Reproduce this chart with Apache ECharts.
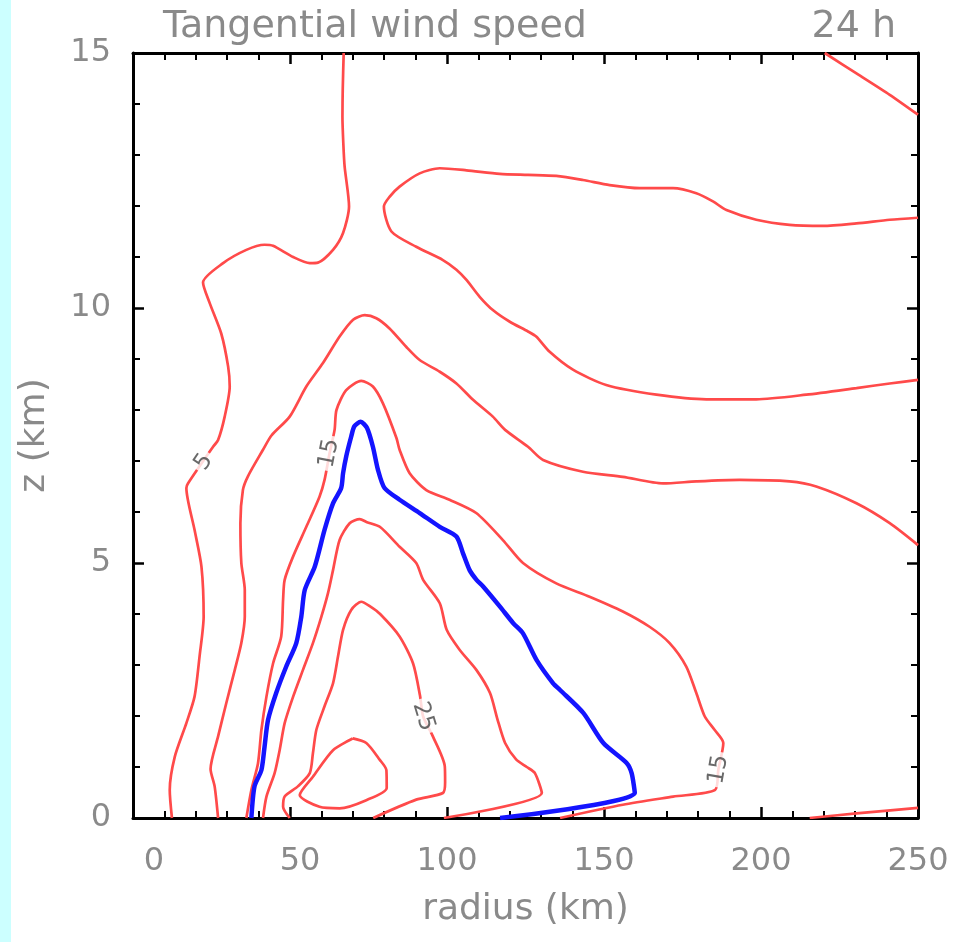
<!DOCTYPE html>
<html>
<head>
<meta charset="utf-8">
<script src="https://cdn.jsdelivr.net/npm/echarts@6/dist/echarts.min.js"></script>
<style>
html,body{margin:0;padding:0;background:#fff;}
#chart{width:957px;height:942px;}
</style>
</head>
<body>
<div id="chart"></div>
<script>
// ---- data (radius km, height km) ----
const xTicks = [0, 50, 100, 150, 200, 250];
const yTicks = [0, 5, 10, 15];

// 5 m/s contour (main branch)
const c5main = [[67.1,15.0],[66.8,14.3],[66.7,13.75],[67.0,13.2],[67.4,12.77],[68.8,11.99],[66.9,11.47],[63.7,11.14],[58.9,10.89],[56.3,10.88],[51.0,11.0],[44.6,11.22],[41.9,11.24],[36.1,11.14],[28.7,10.88],[22.3,10.5],[24.4,10.1],[28.1,9.5],[30.3,8.85],[30.8,8.46],[29.2,7.87],[27.1,7.41],[25.5,7.28],[17.5,6.56],[17.0,6.47],[19.6,5.65],[21.8,4.93],[22.5,3.95],[21.2,3.17],[19.6,2.38],[17.0,1.86],[13.3,1.2],[11.7,0.55],[12.4,0]];
// 5 m/s contour (upper outflow branch)
const c5outer = [[250,11.77],[241,11.73],[230.4,11.66],[219.7,11.61],[209.1,11.63],[198.5,11.73],[189,11.92],[184.7,12.09],[179.4,12.25],[172,12.35],[161.4,12.35],[151.8,12.41],[143.3,12.51],[134.8,12.59],[125.8,12.61],[116.8,12.63],[106.2,12.7],[97.7,12.74],[91.3,12.64],[84.9,12.38],[81.7,12.18],[79.9,11.99],[82.3,11.5],[90.2,11.2],[98.7,10.94],[103,10.75],[106.2,10.55],[110.4,10.22],[114.6,9.96],[120,9.73],[125.8,9.54],[128.4,9.44],[132.7,9.14],[140.1,8.79],[150.7,8.49],[166.7,8.3],[182.6,8.21],[198.5,8.21],[214.4,8.3],[230.4,8.43],[241,8.52],[250,8.59]];
// top-right corner contour
const cTopRight = [[220.3,15],[230.4,14.6],[241,14.18],[250,13.79]];
// 10 m/s contour
const c10 = [[27.1,0],[26.0,0.62],[24.7,0.96],[27.1,1.6],[29.7,2.25],[32.4,2.9],[34.5,3.43],[35.6,3.95],[35.6,4.47],[34.5,5.0],[34.2,5.78],[35.0,6.43],[36.6,6.7],[41.4,7.22],[44.1,7.5],[49.9,7.87],[55.2,8.46],[60.5,8.92],[65.8,9.44],[70.1,9.77],[73.8,9.86],[77.5,9.8],[81.7,9.6],[87.0,9.24],[91.3,8.98],[97.7,8.75],[103,8.52],[108.3,8.2],[114.6,7.87],[118.5,7.61],[125.8,7.28],[130.6,7.02],[143.3,6.79],[156.0,6.69],[168.8,6.56],[179.4,6.6],[193.2,6.63],[209.1,6.6],[217.6,6.5],[230.4,6.17],[241,5.78],[250,5.35]];
// 10 m/s contour near surface at large radius
const c10outer = [[215.5,0],[230.4,0.09],[250,0.2]];
// 15 m/s contour
const c15 = [[36.1,0],[37.7,0.55],[39.8,1.07],[40.9,1.73],[42.5,2.38],[44.6,3.03],[47.2,3.56],[47.8,4.28],[48.3,4.67],[51.0,5.13],[55.2,5.71],[59.4,6.3],[61.0,6.63],[62.6,7.15],[64.2,7.61],[64.8,8.0],[67.9,8.39],[72.7,8.57],[76.4,8.46],[79.6,8.13],[83.9,7.45],[84.9,7.22],[88.1,6.76],[93.4,6.43],[100.8,6.24],[109.3,5.98],[117.8,5.45],[124.2,5.0],[134.8,4.6],[145.4,4.34],[156.0,4.05],[164.5,3.75],[170.9,3.43],[176.2,2.97],[179.4,2.45],[182.1,1.99],[185.2,1.73],[188,1.47],[186.4,0.94],[185.4,0.55],[172,0.42],[156,0.26],[136,0]];
// highlighted (blue) contour
const cBlue = [[37.7,0],[38.7,0.62],[40.9,0.94],[41.9,1.4],[43.0,1.92],[45.6,2.45],[48.8,2.97],[52.0,3.43],[53.6,3.95],[54.7,4.47],[57.9,4.93],[61.0,5.65],[63.7,6.17],[66.3,6.47],[66.9,6.76],[67.9,7.09],[69.5,7.48],[70.5,7.68],[72.5,7.77],[74.5,7.65],[76.4,7.28],[78.0,6.83],[80.1,6.47],[84.9,6.24],[91.3,5.98],[97.7,5.71],[103.0,5.52],[105.1,5.19],[107.2,4.86],[109.4,4.67],[111.5,4.54],[116.8,4.15],[121.1,3.82],[124.2,3.62],[128.5,3.1],[133.8,2.64],[136,2.51],[143.4,2.06],[149.8,1.47],[157.2,1.08],[158.8,0.88],[159.8,0.49],[116.9,0]];
// 20 m/s contour
const c20 = [[41.4,0],[42.5,0.42],[45.1,0.88],[46.7,1.33],[48.3,1.86],[51.0,2.38],[54.1,2.9],[57.3,3.43],[60.0,3.95],[62.1,4.41],[63.7,4.86],[65.8,5.45],[69.0,5.78],[72.2,5.86],[74.5,5.8],[78.6,5.71],[84.9,5.32],[90.2,5.0],[92.4,4.67],[97.7,4.21],[99.9,3.69],[104,3.3],[109.4,2.9],[113.7,2.45],[116,1.95],[118.5,1.47],[122,1.15],[125.4,1.0],[128,0.88],[130.2,0.49],[99,0]];
// 25 m/s contour
const c25 = [[49.9,0],[47.8,0.22],[48.3,0.42],[52.5,0.62],[56.3,0.88],[57.3,1.27],[58.4,1.73],[61.0,2.19],[63.7,2.64],[65.3,3.17],[66.9,3.69],[69.5,4.08],[72.7,4.24],[75.5,4.15],[78.7,4.0],[84.9,3.56],[89.2,3.03],[91.4,2.4],[92.4,1.99],[95.5,1.6],[99.3,1.01],[99.4,0.7],[98.7,0.49],[90.2,0.36],[76.5,0]];
// 30 m/s closed contour
const c30 = [[70,1.56],[74.3,1.47],[78.6,1.14],[80.7,0.94],[80.8,0.59],[74.3,0.35],[65.8,0.19],[59.4,0.22],[53.1,0.45],[57.3,0.81],[63.7,1.33],[70,1.56]];

// contour labels: [r, z, text, angle]
const contourLabels = [[22.6,6.98,'5',56],[62.5,7.15,'15',79],[92.4,1.99,'25',-73],[186.5,0.95,'15',80]];

const RED = '#ff4a4a';
const BLUE = '#1414ff';
const GREY = '#8a8a8a';
const FONT = 'DejaVu Sans';

function redLine(d){
  return {type:'line', data:d, showSymbol:false, symbol:'none', smooth:0.25,
    lineStyle:{color:RED, width:2.7}, z:3, silent:true, clip:true};
}

const chart = echarts.init(document.getElementById('chart'), null, {renderer:'canvas'});

const axisCommon = {
  type:'value',
  axisLine:{show:true, onZero:false, lineStyle:{color:'#000', width:3}},
  axisTick:{show:true, inside:true, length:11, lineStyle:{color:'#000', width:2.5}},
  minorTick:{show:true, splitNumber:5, length:7, lineStyle:{color:'#000', width:2}},
  splitLine:{show:false}
};

chart.setOption({
  animation:false,
  backgroundColor:'#fff',
  graphic:[{type:'rect', left:0, top:0, shape:{x:0,y:0,width:11,height:942}, style:{fill:'#ccffff'}, z:-10}],
  title:[
    {text:'Tangential wind speed', left:158, top:3, textStyle:{fontFamily:FONT, fontSize:38, fontWeight:'normal', color:GREY}},
    {text:'24 h', right:56, top:3, textStyle:{fontFamily:FONT, fontSize:38, fontWeight:'normal', color:GREY}}
  ],
  grid:{left:133, right:39, top:53, bottom:124, containLabel:false},
  xAxis:[
    Object.assign({}, axisCommon, {
      position:'bottom', min:xTicks[0], max:xTicks[xTicks.length-1], interval:50,
      name:'radius (km)', nameLocation:'middle', nameGap:74,
      nameTextStyle:{fontFamily:FONT, fontSize:36, color:GREY},
      axisLabel:{show:true, margin:28, fontFamily:FONT, fontSize:32, color:GREY,
        formatter:function(v){ if(v===0) return '{a|0}'; if(v===50) return '{b|50}'; return String(v); },
        rich:{a:{fontFamily:FONT, fontSize:32, color:GREY, padding:[0,0,0,42]},
              b:{fontFamily:FONT, fontSize:32, color:GREY, padding:[0,0,0,20]}}}
    }),
    Object.assign({}, axisCommon, {
      position:'top', min:xTicks[0], max:xTicks[xTicks.length-1], interval:50,
      axisLabel:{show:false}
    })
  ],
  yAxis:[
    Object.assign({}, axisCommon, {
      position:'left', min:yTicks[0], max:yTicks[yTicks.length-1], interval:5,
      name:'z (km)', nameLocation:'middle', nameGap:80, nameRotate:90,
      nameTextStyle:{fontFamily:FONT, fontSize:36, color:GREY},
      axisLabel:{show:true, margin:22, fontFamily:FONT, fontSize:32, color:GREY}
    }),
    Object.assign({}, axisCommon, {
      position:'right', min:yTicks[0], max:yTicks[yTicks.length-1], interval:5,
      axisLabel:{show:false}
    })
  ],
  series:[
    redLine(c5main), redLine(c5outer), redLine(cTopRight),
    redLine(c10), redLine(c10outer), redLine(c15),
    redLine(c20), redLine(c25), redLine(c30),
    {type:'line', data:cBlue, showSymbol:false, symbol:'none', smooth:0.25,
      lineStyle:{color:BLUE, width:4.5}, z:4, silent:true},
    {type:'scatter', z:6, silent:true, symbolSize:1, itemStyle:{color:'rgba(0,0,0,0)'},
      data:contourLabels.map(function(l){
        return {value:[l[0], l[1]], label:{show:true, position:'inside', formatter:l[2], rotate:l[3],
          fontFamily:FONT, fontSize:23, color:'#444', backgroundColor:'#fff', padding:[0,3]}};
      })
    }
  ]
});
</script>
</body>
</html>
